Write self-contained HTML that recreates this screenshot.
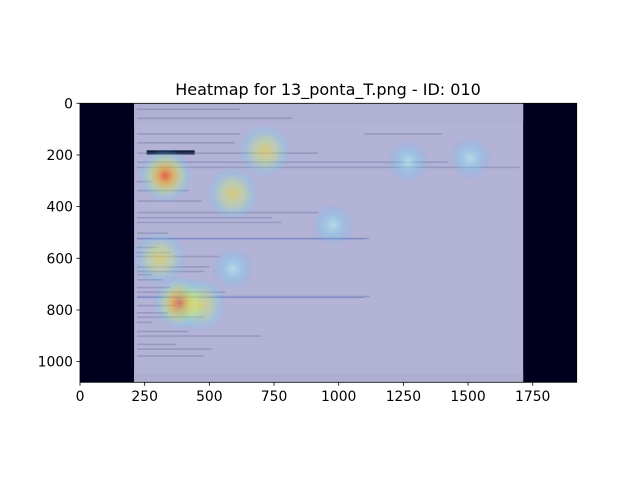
<!DOCTYPE html>
<html><head><meta charset="utf-8"><style>
body{margin:0;background:#fff;width:640px;height:480px;overflow:hidden;font-family:"DejaVu Sans","Liberation Sans",sans-serif}
</style></head><body>
<svg id="chart" width="640" height="480" viewBox="0 0 640 480" xmlns="http://www.w3.org/2000/svg">
<defs>
<radialGradient id="gHot"><stop offset="0" stop-color="#ff3000" stop-opacity="0.65"/><stop offset="0.3" stop-color="#ffb000" stop-opacity="0.5"/><stop offset="0.6" stop-color="#c0ff60" stop-opacity="0.3"/><stop offset="0.85" stop-color="#50e0ff" stop-opacity="0.15"/><stop offset="1" stop-color="#40c0ff" stop-opacity="0"/></radialGradient>
<radialGradient id="gWarm"><stop offset="0" stop-color="#ffd830" stop-opacity="0.55"/><stop offset="0.45" stop-color="#c8ff70" stop-opacity="0.3"/><stop offset="0.8" stop-color="#50e0ff" stop-opacity="0.15"/><stop offset="1" stop-color="#40c0ff" stop-opacity="0"/></radialGradient>
<radialGradient id="gCool"><stop offset="0" stop-color="#c0fff8" stop-opacity="0.5"/><stop offset="0.5" stop-color="#60e0ff" stop-opacity="0.25"/><stop offset="1" stop-color="#40a0ff" stop-opacity="0"/></radialGradient>
<clipPath id="clipAx"><rect x="80" y="103.3" width="496.7" height="279"/></clipPath>
</defs>
<text x="328" y="95" text-anchor="middle" font-size="16" fill="#000">Heatmap for 13_ponta_T.png - ID: 010</text>
<g id="img" clip-path="url(#clipAx)"></g>
<g id="axes"></g>
</svg>
<script>
const xTicks=[0,250,500,750,1000,1250,1500,1750];
const yTicks=[0,200,400,600,800,1000];
const spotX=[330,715,591,1268,1508,978,309,591,387,464];
const spotY=[280,185,350,227,212,471,600,640,773,780];
const spotLevel=[3,2,2,1,1,1,2,1,3,2];
const X0=80,Y0=103.3,SX=496.7/1920,SY=279/1080;
const xs=v=>X0+v*SX, ys=v=>Y0+v*SY;
const NS="http://www.w3.org/2000/svg";
function mk(t,a,p){const e=document.createElementNS(NS,t);for(const k in a)e.setAttribute(k,a[k]);p.appendChild(e);return e;}
const img=document.getElementById('img'),ax=document.getElementById('axes');
let r=mk('rect',{x:xs(0),y:ys(0),width:1920*SX,height:1080*SY,fill:'#00001e'},img);


let p=mk('rect',{x:xs(209),y:ys(0),width:1504*SX,height:1080*SY,fill:'#b3b3d6'},img);


mk('rect',{x:xs(209),y:ys(0),width:1504*SX,height:75*SY,fill:'#b0b0d2'},img);
mk('rect',{x:xs(209),y:ys(1045),width:1504*SX,height:35*SY,fill:'#aeaed0'},img);
mk('rect',{x:xs(258),y:ys(182),width:185*SX,height:16*SY,fill:'#102040'},img);
const lines=[[220,20,400],[220,55,600],[220,115,400],[1100,115,300],[220,150,380],[220,190,700],[220,225,1200],[220,245,1480],[220,300,60],[220,335,200],[220,375,250],[220,420,700],[220,440,520],[220,458,560],[220,500,120],[220,520,900],[220,555,80],[220,575,130],[220,590,320],[220,630,280],[220,648,260],[220,660,60],[220,680,100],[220,710,130],[220,728,340],[220,745,900],[220,780,150],[220,808,120],[220,825,260],[220,845,60],[220,880,200],[220,898,480],[220,930,150],[220,948,290],[220,975,260]];
lines.forEach(l=>mk('rect',{x:xs(l[0]),y:ys(l[1]),width:l[2]*SX,height:1.6,fill:'#6a6a98',opacity:0.35},img));
mk('rect',{x:xs(220),y:ys(523),width:880*SX,height:1,fill:'#5070d0',opacity:0.5},img);
mk('rect',{x:xs(220),y:ys(750),width:880*SX,height:1,fill:'#5070d0',opacity:0.5},img);
const grads=['','gCool','gWarm','gHot'];
spotX.forEach((v,i)=>{const c=mk('circle',{cx:xs(v),cy:ys(spotY[i]),r:spotLevel[i]==1?22:27,fill:'url(#'+grads[spotLevel[i]]+')'},img);

});
let f=mk('rect',{x:80,y:103.3,width:496.7,height:279,fill:'none',stroke:'#000','stroke-width':0.8},ax);


xTicks.forEach(t=>{mk('line',{x1:xs(t),x2:xs(t),y1:382.3,y2:385.8,stroke:'#000','stroke-width':0.8},ax);
const tx=mk('text',{x:xs(t),y:401,'text-anchor':'middle','font-size':'13.9',fill:'#000'},ax);tx.textContent=t;

});
yTicks.forEach(t=>{mk('line',{x1:76.5,x2:80,y1:ys(t),y2:ys(t),stroke:'#000','stroke-width':0.8},ax);
const tx=mk('text',{x:73,y:ys(t)+5,'text-anchor':'end','font-size':'13.9',fill:'#000'},ax);tx.textContent=t;

});
</script>
</body></html>
